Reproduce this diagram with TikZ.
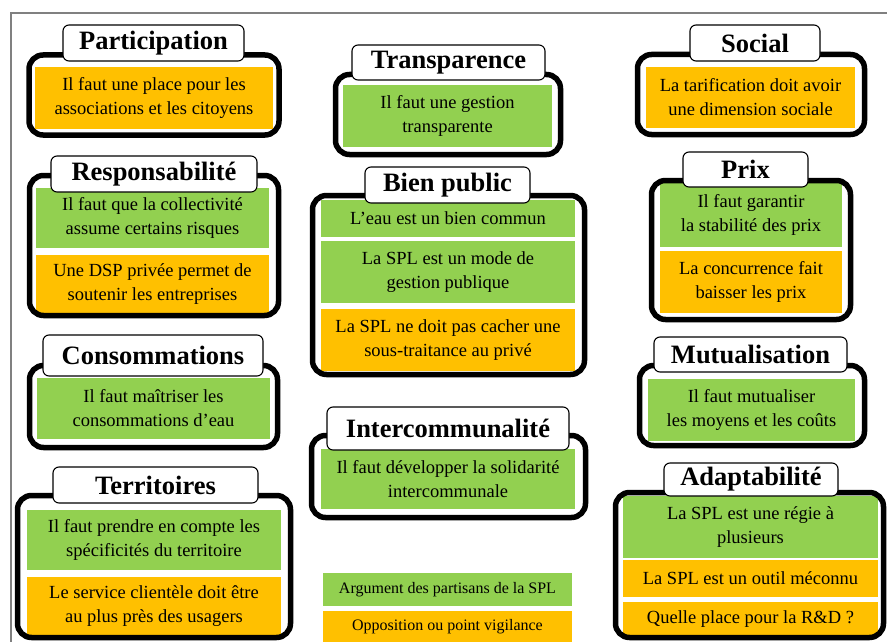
\documentclass[tikz,border=0pt]{standalone}
\usepackage{fontspec}
\setmainfont{Liberation Serif}
\definecolor{cgreen}{HTML}{92D050}
\definecolor{corange}{HTML}{FFC000}
\newcommand\mybx[7]{\node[#1, minimum width={(#5-#3)*1pt}, minimum height={(#6-#4)*1pt}, anchor=center] (#2) at ({(#3+#5)/2},{(#4+#6)/2}) {#7};}
\begin{document}
\begin{tikzpicture}[x=1pt,y=-1pt,
  outerbox/.style={draw=black, line width=5.5pt, rounded corners=14pt, inner sep=0pt},
  titlebox/.style={draw=black, line width=1.1pt, fill=white, rounded corners=6pt, inner sep=0pt, font=\fontsize{26.5}{30}\selectfont\bfseries},
  gbox/.style={fill=cgreen, inner sep=0pt, align=center, font=\fontsize{18.5}{24}\selectfont},
  obox/.style={fill=corange, inner sep=0pt, align=center, font=\fontsize{18.5}{24}\selectfont},
  lgbox/.style={inner sep=0pt, align=center, font=\fontsize{16}{18}\selectfont}]
\useasboundingbox (0,0) rectangle (887,642);
\draw[black!50, line width=1.5pt] (11,642) -- (11,13) -- (887,13);

% Participation
\mybx{obox}{partA}{35}{67}{273}{129}{Il faut une place pour les\\associations et les citoyens}
\mybx{outerbox}{partO}{29}{55}{279}{135}{}
\mybx{titlebox}{partT}{63}{25}{244}{61}{Participation}

% Responsabilite
\mybx{gbox}{respA}{36}{188}{269}{248}{Il faut que la collectivité\\assume certains risques}
\mybx{obox}{respB}{36}{255}{269}{313}{Une DSP privée permet de\\soutenir les entreprises}
\mybx{outerbox}{respO}{29.5}{175.5}{278.5}{315.5}{}
\mybx{titlebox}{respT}{51}{156}{257}{192}{Responsabilité}

% Consommations
\mybx{gbox}{consA}{37}{378}{270}{439}{Il faut maîtriser les\\consommations d’eau}
\mybx{outerbox}{consO}{29.5}{365.5}{277.5}{447.5}{}
\mybx{titlebox}{consT}{43}{335}{263}{376}{Consommations}

% Territoires
\mybx{gbox}{terrA}{27}{510}{281}{570}{Il faut prendre en compte les\\spécificités du territoire}
\mybx{obox}{terrB}{27}{577}{281}{636}{Le service clientèle doit être\\au plus près des usagers}
\mybx{outerbox}{terrO}{17.5}{495.5}{290.5}{637.5}{}
\mybx{titlebox}{terrT}{53}{467}{258}{503}{Territoires}

% Transparence
\mybx{gbox}{tranA}{343}{85}{552}{147}{Il faut une gestion\\transparente}
\mybx{outerbox}{tranO}{335.5}{74.5}{560.5}{154.5}{}
\mybx{titlebox}{tranT}{352}{45}{545}{80}{Transparence}

% Bien public
\mybx{gbox}{bienA}{321}{200}{575}{237}{L’eau est un bien commun}
\mybx{gbox}{bienB}{321}{241}{575}{303}{La SPL est un mode de\\gestion publique}
\mybx{obox}{bienC}{321}{309}{575}{371}{La SPL ne doit pas cacher une\\sous-traitance au privé}
\mybx{outerbox}{bienO}{312.5}{195.5}{584.5}{374.5}{}
\mybx{titlebox}{bienT}{365}{167}{530}{203}{Bien public}

% Intercommunalite
\mybx{gbox}{intA}{321}{449}{575}{509}{Il faut développer la solidarité\\intercommunale}
\mybx{outerbox}{intO}{311.5}{435.5}{585.5}{517.5}{}
\mybx{titlebox}{intT}{327}{407}{569}{450}{Intercommunalité}

% Legend
\mybx{lgbox,fill=cgreen}{legG}{323}{573}{572}{606}{Argument des partisans de la SPL}
\mybx{lgbox,fill=corange}{legO}{323}{611}{572}{642}{Opposition ou point vigilance}

% Social
\mybx{obox}{socA}{646}{67}{855}{128}{La tarification doit avoir\\une dimension sociale}
\mybx{outerbox}{socO}{637.5}{54.5}{864.5}{134.5}{}
\mybx{titlebox}{socT}{690}{25}{820}{61}{Social}

% Prix
\mybx{gbox}{prixA}{660}{183}{842}{247}{Il faut garantir\\la stabilité des prix}
\mybx{obox}{prixB}{660}{251}{842}{313}{La concurrence fait\\baisser les prix}
\mybx{outerbox}{prixO}{651.5}{180.5}{850.5}{319.5}{}
\mybx{titlebox}{prixT}{683}{152}{808}{187}{Prix}

% Mutualisation
\mybx{gbox}{mutA}{648}{379}{855}{441}{Il faut mutualiser\\les moyens et les coûts}
\mybx{outerbox}{mutO}{639.5}{365.5}{864.5}{445.5}{}
\mybx{titlebox}{mutT}{654}{337}{847}{372}{Mutualisation}

% Adaptabilite
\mybx{gbox}{adaA}{623}{496}{878}{558}{La SPL est une régie à\\plusieurs}
\mybx{obox}{adaB}{623}{560}{878}{597}{La SPL est un outil méconnu}
\mybx{obox}{adaC}{623}{602}{878}{637}{Quelle place pour la R\&D ?}
\mybx{outerbox}{adaO}{615.5}{492.5}{883.5}{637.5}{}
\mybx{titlebox}{adaT}{664}{463}{838}{496}{Adaptabilité}
\end{tikzpicture}
\end{document}
